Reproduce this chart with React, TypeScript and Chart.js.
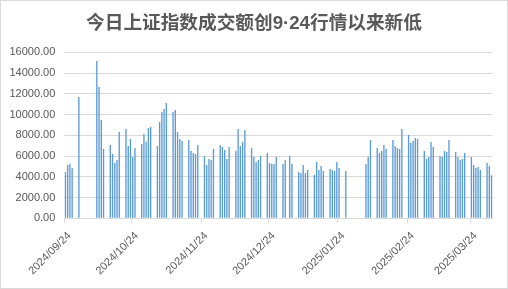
import React, { useEffect, useRef } from 'react';
import { Chart, registerables } from 'chart.js';

Chart.register(...registerables);

const titleText = '今日上证指数成交额创9·24行情以来新低';

// calendar span of the date axis
const axisStart = [2024, 9, 24];
const axisEnd = [2025, 4, 2];
const labelDay = 24;

const tradeDates = [
  '2024/09/24', '2024/09/25', '2024/09/26', '2024/09/27', '2024/09/30',
  '2024/10/08', '2024/10/09', '2024/10/10', '2024/10/11',
  '2024/10/14', '2024/10/15', '2024/10/16', '2024/10/17', '2024/10/18',
  '2024/10/21', '2024/10/22', '2024/10/23', '2024/10/24', '2024/10/25',
  '2024/10/28', '2024/10/29', '2024/10/30', '2024/10/31', '2024/11/01',
  '2024/11/04', '2024/11/05', '2024/11/06', '2024/11/07', '2024/11/08',
  '2024/11/11', '2024/11/12', '2024/11/13', '2024/11/14', '2024/11/15',
  '2024/11/18', '2024/11/19', '2024/11/20', '2024/11/21', '2024/11/22',
  '2024/11/25', '2024/11/26', '2024/11/27', '2024/11/28', '2024/11/29',
  '2024/12/02', '2024/12/03', '2024/12/04', '2024/12/05', '2024/12/06',
  '2024/12/09', '2024/12/10', '2024/12/11', '2024/12/12', '2024/12/13',
  '2024/12/16', '2024/12/17', '2024/12/18', '2024/12/19', '2024/12/20',
  '2024/12/23', '2024/12/24', '2024/12/25', '2024/12/26', '2024/12/27',
  '2024/12/30', '2024/12/31', '2025/01/02', '2025/01/03',
  '2025/01/06', '2025/01/07', '2025/01/08', '2025/01/09', '2025/01/10',
  '2025/01/13', '2025/01/14', '2025/01/15', '2025/01/16', '2025/01/17',
  '2025/01/20', '2025/01/21', '2025/01/22', '2025/01/23', '2025/01/24',
  '2025/01/27',
  '2025/02/05', '2025/02/06', '2025/02/07',
  '2025/02/10', '2025/02/11', '2025/02/12', '2025/02/13', '2025/02/14',
  '2025/02/17', '2025/02/18', '2025/02/19', '2025/02/20', '2025/02/21',
  '2025/02/24', '2025/02/25', '2025/02/26', '2025/02/27', '2025/02/28',
  '2025/03/03', '2025/03/04', '2025/03/05', '2025/03/06', '2025/03/07',
  '2025/03/10', '2025/03/11', '2025/03/12', '2025/03/13', '2025/03/14',
  '2025/03/17', '2025/03/18', '2025/03/19', '2025/03/20', '2025/03/21',
  '2025/03/24', '2025/03/25', '2025/03/26', '2025/03/27', '2025/03/28',
  '2025/03/31', '2025/04/01', '2025/04/02',
];

const turnover = [
  4470, 5140, 5240, 4850, 11690,
  15160, 12660, 9480, 6680,
  7070, 6200, 5330, 5620, 8320,
  8610, 6970, 7650, 5910, 6780,
  7160, 8130, 7390, 8710, 8800,
  6970, 9290, 10250, 10540, 11120,
  10250, 10440, 8320, 7650, 7450,
  7550, 6490, 6300, 6200, 7070,
  6010, 5140, 5720, 5620, 6680,
  7070, 6880, 6590, 5720, 6880,
  6490, 8610, 6970, 7360, 8520,
  6780, 5910, 5430, 5620, 6010,
  6300, 5330, 5240, 5240, 5910,
  5240, 5620, 6010, 5240,
  4470, 4370, 5140, 4370, 4660,
  4200, 5430, 4660, 5040, 4560,
  4760, 4660, 4560, 5430, 4850,
  4560,
  5240, 5910, 7550,
  6780, 6300, 6490, 7070, 6680,
  7550, 6970, 6780, 6680, 8610,
  8030, 7260, 7450, 7740, 7650,
  6490, 5720, 5910, 7360, 6880,
  6010, 5910, 6490, 6390, 7550,
  6390, 5910, 5620, 5720, 6300,
  5910, 5140, 4850, 4950, 4660,
  5330, 5040, 4150,
];

const yMin = 0;
const yMax = 16000;
const yStep = 2000;

const pad2 = (n: number) => (n < 10 ? '0' + n : '' + n);

function buildDays(): string[] {
  const out: string[] = [];
  const d = new Date(Date.UTC(axisStart[0], axisStart[1] - 1, axisStart[2]));
  const end = Date.UTC(axisEnd[0], axisEnd[1] - 1, axisEnd[2]);
  while (d.getTime() <= end) {
    out.push(`${d.getUTCFullYear()}/${pad2(d.getUTCMonth() + 1)}/${pad2(d.getUTCDate())}`);
    d.setUTCDate(d.getUTCDate() + 1);
  }
  return out;
}

export default function App() {
  const ref = useRef<HTMLCanvasElement | null>(null);

  useEffect(() => {
    if (!ref.current) return;
    const days = buildDays();
    const valueByDate: Record<string, number> = {};
    tradeDates.forEach((d, i) => (valueByDate[d] = turnover[i]));
    const values = days.map((d) => (d in valueByDate ? valueByDate[d] : null));
    const isLabelDay = (i: number) => i >= 0 && i < days.length && days[i].endsWith('/' + labelDay);

    const axisFont = { family: '"Liberation Sans", Arial, sans-serif', size: 11 };
    const textColor = '#595959';
    const gridColor = '#d9d9d9';

    const chart = new Chart(ref.current, {
      type: 'bar',
      data: {
        labels: days,
        datasets: [
          {
            data: values,
            backgroundColor: '#5B9BD5',
            categoryPercentage: 1,
            barPercentage: 0.6,
          },
        ],
      },
      options: {
        animation: false,
        responsive: true,
        maintainAspectRatio: false,
        layout: { padding: 0 },
        plugins: {
          legend: { display: false },
          tooltip: { enabled: false },
          title: {
            display: true,
            text: titleText,
            color: textColor,
            font: {
              family: '"Liberation Sans", "Noto Sans CJK SC", sans-serif',
              size: 18.67,
              weight: 'bold',
              lineHeight: 1.2,
            },
            padding: { top: 11.5, bottom: 17.4 },
          },
        },
        scales: {
          x: {
            grid: {
              offset: true,
              drawOnChartArea: false,
              tickLength: 5,
              color: (ctx: any) => (isLabelDay(ctx.index) ? gridColor : 'rgba(0,0,0,0)'),
            },
            border: { display: true, color: gridColor },
            ticks: {
              autoSkip: false,
              minRotation: 45,
              maxRotation: 45,
              padding: 6,
              labelOffset: 4,
              color: textColor,
              font: axisFont,
              callback: (_v: any, i: number) => (isLabelDay(i) ? days[i] : ''),
            },
            afterFit: (s: any) => {
              s.height = 69.7;
              s.paddingRight = 14.3;
            },
          },
          y: {
            min: yMin,
            max: yMax,
            ticks: {
              stepSize: yStep,
              padding: 9,
              color: textColor,
              font: axisFont,
              callback: (v: any) => Number(v).toFixed(2),
            },
            grid: { color: gridColor, drawTicks: false },
            border: { display: false },
            afterFit: (s: any) => {
              s.width = 63.3;
            },
          },
        },
      },
    } as any);
    return () => chart.destroy();
  }, []);

  return (
    <div
      style={{
        position: 'absolute',
        left: 0,
        top: 0,
        width: 508,
        height: 289,
        boxSizing: 'border-box',
        border: '1px solid #d9d9d9',
        background: '#fff',
      }}
    >
      <div style={{ position: 'relative', width: 506, height: 287 }}>
        <canvas ref={ref} />
      </div>
    </div>
  );
}
